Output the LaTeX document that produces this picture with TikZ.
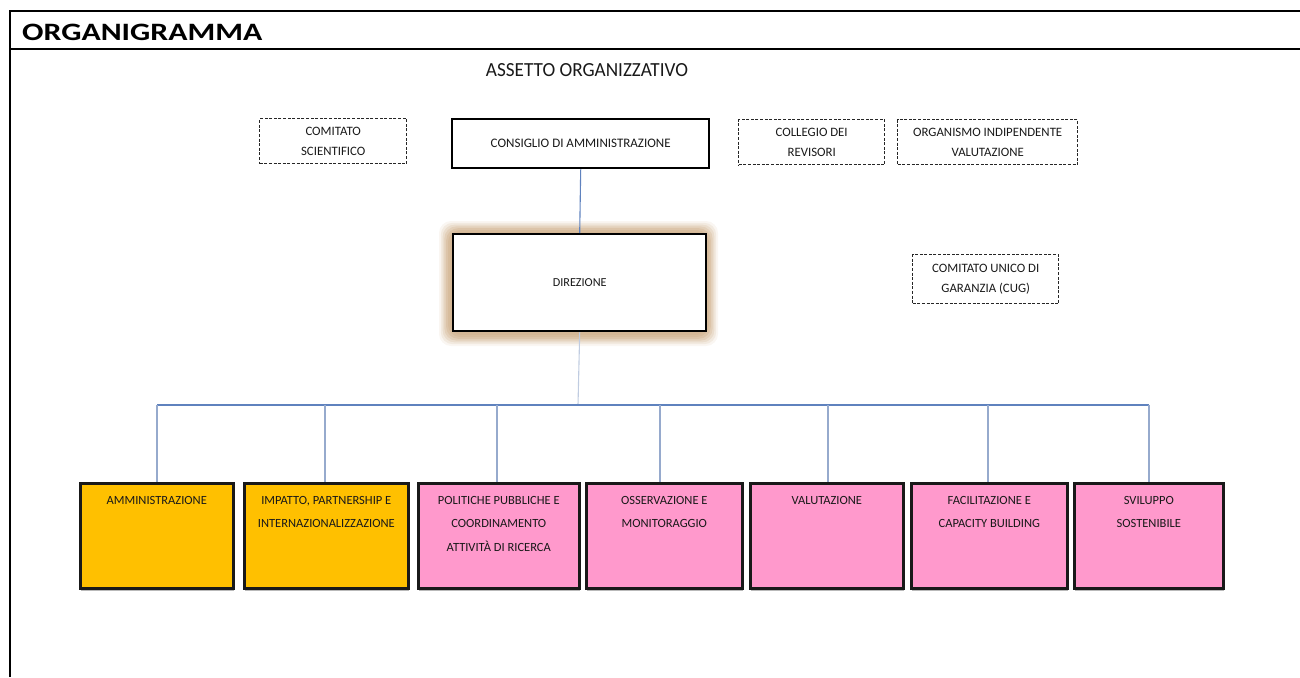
\documentclass[tikz,border=0pt]{standalone}
\usepackage{fontspec}
\setmainfont{Carlito}
\usetikzlibrary{shadows,positioning}
\definecolor{orgorange}{RGB}{255,192,0}
\definecolor{orgpink}{RGB}{255,153,204}
\definecolor{busblue}{RGB}{95,130,190}
\definecolor{dropblue}{RGB}{150,170,205}
\definecolor{glow}{RGB}{210,180,145}
\definecolor{txt}{RGB}{25,25,25}
\tikzset{
  dbox/.style={draw=black!85, line width=1.4pt, dash pattern=on 3pt off 1.6pt, anchor=north west, inner sep=0pt, align=center, font=\fontsize{12.8}{19.5}\selectfont, text=txt},
  sbox/.style={draw=black, line width=2.4pt, anchor=north west, inner sep=0pt, align=center, fill=white, font=\fontsize{13}{19}\selectfont, text=txt},
  bbox/.style={draw=black!90, line width=2.6pt, anchor=north west, inner sep=0pt, minimum height=105pt,
    drop shadow={opacity=0.55, shadow xshift=0.5pt, shadow yshift=-2.5pt}},
  btext/.style={anchor=north, align=center, inner sep=0pt, font=\fontsize{12.5}{23.5}\selectfont, text=txt},
  bus/.style={draw=busblue, line width=1.1pt},
  drop/.style={draw=dropblue, line width=1.1pt},
}
\begin{document}
\begin{tikzpicture}[x=1pt,y=-1pt]
\useasboundingbox (0,0) rectangle (1300,677);
% frame
\coordinate (ftl) at (10,11);
\coordinate (ftr) at (1300,11);
\coordinate (fbl) at (10,677);
\coordinate (fml) at (10,49);
\coordinate (fmr) at (1300,49);
\draw[line width=2pt] (fbl) -- (ftl) -- (ftr);
\draw[line width=2pt] (fml) -- (fmr);
\node[anchor=base west, inner sep=0pt, font=\fontsize{25}{28}\selectfont\bfseries\addfontfeature{FakeStretch=1.27}] (title) at (22,41) {ORGANIGRAMMA};
\node[anchor=base, inner sep=0pt, font=\fontsize{20}{22}\selectfont\addfontfeature{FakeStretch=0.96}, text=txt] (assetto) at (587,77) {ASSETTO ORGANIZZATIVO};

% top boxes
\node[dbox, minimum width=147pt, minimum height=45pt] (cs) at (259,118) {COMITATO\\SCIENTIFICO};
\node[sbox, minimum width=257pt, minimum height=49pt] (cda) at (451,118) {CONSIGLIO DI AMMINISTRAZIONE};
\node[dbox, minimum width=146pt, minimum height=45pt] (cr) at (738,119) {COLLEGIO DEI\\REVISORI};
\node[dbox, minimum width=180pt, minimum height=45pt] (oiv) at (897,119) {ORGANISMO INDIPENDENTE\\VALUTAZIONE};

% direzione with glow
\foreach \i/\o in {0/0.12,1/0.18,2/0.25,3/0.32,4/0.4,5/0.5,6/0.6}{
  \fill[glow, opacity=\o, rounded corners=12pt] (439+1.8*\i,221+1.8*\i) rectangle (718-1.8*\i,346-1.8*\i);
}
\node[sbox, minimum width=253pt, minimum height=97pt, font=\fontsize{12.2}{14}\selectfont] (dir) at (452,233) {DIREZIONE};
\node[dbox, minimum width=146pt, minimum height=49pt] (cug) at (912,254) {COMITATO UNICO DI\\GARANZIA (CUG)};

% bottom boxes
\node[bbox, fill=orgorange, minimum width=153pt] (b1) at (79,482) {};
\node[bbox, fill=orgorange, minimum width=164pt] (b2) at (243,482) {};
\node[bbox, fill=orgpink, minimum width=161pt] (b3) at (417,482) {};
\node[bbox, fill=orgpink, minimum width=156pt] (b4) at (585,482) {};
\node[bbox, fill=orgpink, minimum width=153pt] (b5) at (749,482) {};
\node[bbox, fill=orgpink, minimum width=156pt] (b6) at (910,482) {};
\node[bbox, fill=orgpink, minimum width=149pt] (b7) at (1073,482) {};
\node[btext] (t1) at ([yshift=-14pt]b1.north) {AMMINISTRAZIONE};
\node[btext] (t2) at ([yshift=-14pt]b2.north) {IMPATTO, PARTNERSHIP E\\INTERNAZIONALIZZAZIONE};
\node[btext] (t3) at ([yshift=-14pt]b3.north) {POLITICHE PUBBLICHE E\\COORDINAMENTO\\ATTIVITÀ DI RICERCA};
\node[btext] (t4) at ([yshift=-14pt]b4.north) {OSSERVAZIONE E\\MONITORAGGIO};
\node[btext] (t5) at ([yshift=-14pt]b5.north) {VALUTAZIONE};
\node[btext] (t6) at ([yshift=-14pt]b6.north) {FACILITAZIONE E\\CAPACITY BUILDING};
\node[btext] (t7) at ([yshift=-14pt]b7.north) {SVILUPPO\\SOSTENIBILE};

% connectors
\draw[bus] (cda.south) -- (dir.north);
\coordinate (busc) at (578,405);
\draw[drop, draw=dropblue!60] (dir.south) -- (busc);
\coordinate (busl) at (157,405);
\coordinate (busr) at (1149,405);
\draw[bus] (busl) -- (busr);
\foreach \b/\x in {b1/157,b2/325,b3/497,b4/660,b5/828,b6/988,b7/1149}{
  \draw[drop] (\x,405) -- (\b.north -| \x,0);
}
\end{tikzpicture}
\end{document}
